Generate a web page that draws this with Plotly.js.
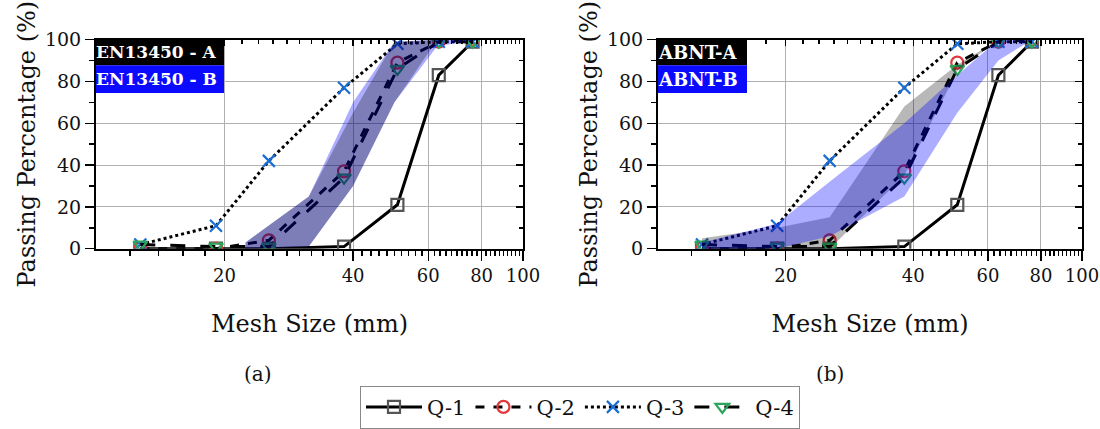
<!DOCTYPE html>
<html><head><meta charset="utf-8">
<script src="https://cdn.plot.ly/plotly-3.0.1.min.js"></script>
<style>html,body{margin:0;padding:0;background:#fff}#c{width:1100px;height:429px}</style>
</head><body><div id="c"></div>
<script>
// Sieve sizes (mm) for samples
var sieves = [12.7, 19.1, 25.4, 38.1, 50.8, 63.5, 76.2];
var q1 = [0, 0, 0, 1, 21, 83, 99];
var q2 = [0, 0, 4, 37, 89, 99, 100];
var q3 = [2, 11, 42, 77, 98, 99, 99];
var q4 = [2, 1, 1, 34, 86, 99, 99];

// EN 13450 grading limits
var enSieves = [22.4, 31.5, 40, 50, 63, 80];
var enA_low = [0, 1, 30, 70, 100, 100];
var enA_up  = [3, 25, 65, 99, 100, 100];
var enB_low = [0, 1, 30, 70, 97, 100];
var enB_up  = [3, 25, 70, 99, 100, 100];

// ABNT grading limits
var abSieves = [12.7, 19.1, 25.4, 38.1, 50.8, 63.5, 76.2];
var abA_low = [0, 0, 0, 35, 85, 100, 100];
var abA_up  = [5, 10, 15, 68, 88, 100, 100];
var abB_low = [0, 0, 6, 25, 65, 90, 100];
var abB_up  = [3, 12, 32, 60, 83, 100, 100];

var xTickVals = [20, 40, 60, 80, 100];
var xTickText = ['20', '40', '60', '80', '100'];
var yTickVals = [0, 20, 40, 60, 80, 100];

var labelsA = ['EN13450 - A', 'ABNT-A'];
var labelsB = ['EN13450 - B', 'ABNT-B'];
var panelLabels = ['(a)', '(b)'];
var seriesNames = ['Q-1', 'Q-2', 'Q-3', 'Q-4'];

var FONT = 'DejaVu Serif';
var minorX = [];
for (var v = 12; v < 100; v += 2) { if (v % 20 !== 0) minorX.push(v); }

function band(xs, lo, up, color, xa, ya) {
  return {x: xs.concat(xs.slice().reverse()), y: lo.concat(up.slice().reverse()),
    fill: 'toself', fillcolor: color, line: {width: 0}, mode: 'lines',
    xaxis: xa, yaxis: ya, showlegend: false, hoverinfo: 'skip'};
}
var styles = [
  {dash: 'solid', sym: 'square-open', col: '#555555'},
  {dash: 'dash', sym: 'circle-open', col: '#e0393e'},
  {dash: 'dot', sym: 'x-thin-open', col: '#1a6fd4'},
  {dash: 'longdash', sym: 'triangle-down-open', col: '#2aa55a'}
];
var data = [];
var series = [q1, q2, q3, q4];
['x', 'x2'].forEach(function (xa, p) {
  var ya = p === 0 ? 'y' : 'y2';
  series.forEach(function (s, i) {
    data.push({x: sieves, y: s, mode: 'lines+markers', name: seriesNames[i],
      xaxis: xa, yaxis: ya, showlegend: p === 0,
      line: {color: '#000', width: 3, dash: styles[i].dash},
      marker: {symbol: styles[i].sym, size: 12, color: styles[i].col, line: {width: 2.2, color: styles[i].col}}});
  });
});
var bandGrey = 'rgba(0,0,0,0.28)';
var bandBlue = 'rgba(0,0,255,0.32)';
data.push(band(enSieves, enB_low, enB_up, bandBlue, 'x', 'y'));
data.push(band(enSieves, enA_low, enA_up, bandGrey, 'x', 'y'));
data.push(band(abSieves, abA_low, abA_up, bandGrey, 'x2', 'y2'));
data.push(band(abSieves, abB_low, abB_up, bandBlue, 'x2', 'y2'));
[['x3', 'y'], ['x', 'y3'], ['x4', 'y2'], ['x2', 'y4']].forEach(function (p) {
  data.push({x: [null], y: [null], xaxis: p[0], yaxis: p[1], mode: 'markers', showlegend: false, hoverinfo: 'skip'});
});

var W = 1100, H = 429;
var dom = [[96 / W, 523 / W], [658 / W, 1082 / W]];
var yd = [1 - 254 / H, 1 - 40.5 / H];
var xRange = [1, 2];
function xaxis(d) {
  return {type: 'log', range: xRange, domain: d, tickmode: 'array', tickvals: xTickVals, ticktext: xTickText,
    ticks: 'outside', ticklen: 10, tickwidth: 1.5, tickcolor: '#000', showline: true, linecolor: '#000', linewidth: 2,
    showgrid: true, gridcolor: '#b0b0b0', gridwidth: 1, zeroline: false,
    tickfont: {family: FONT, size: 18, color: '#111'},
    minor: {tickmode: 'array', tickvals: minorX, ticks: 'outside', ticklen: 5, tickwidth: 1.5, tickcolor: '#000', showgrid: false},
    title: {text: 'Mesh Size (mm)', font: {family: FONT, size: 24, color: '#111'}, standoff: 30}};
}
function xtop(d, over, anc) {
  return {type: 'log', range: xRange, domain: d, overlaying: over, anchor: anc, side: 'top', tickmode: 'array', tickvals: xTickVals,
    ticks: 'inside', ticklen: 6, tickwidth: 1.5, tickcolor: '#000', showticklabels: false, showline: true, linecolor: '#000', linewidth: 2,
    showgrid: false, zeroline: false,
    minor: {tickmode: 'array', tickvals: minorX, ticks: 'inside', ticklen: 4, tickwidth: 1.5, tickcolor: '#000', showgrid: false}};
}
function yaxis(anc) {
  return {range: [0, 100], domain: yd, anchor: anc, tickmode: 'array', tickvals: yTickVals,
    ticks: 'outside', ticklen: 9, tickwidth: 1.5, tickcolor: '#000', showline: true, linecolor: '#000', linewidth: 2,
    showgrid: true, gridcolor: '#b0b0b0', gridwidth: 1, zeroline: false,
    tickfont: {family: FONT, size: 19, color: '#111'},
    minor: {tickmode: 'array', tickvals: [10, 30, 50, 70, 90], ticks: 'outside', ticklen: 5, tickwidth: 1.5, tickcolor: '#000', showgrid: false},
    title: {text: 'Passing Percentage (%)', font: {family: FONT, size: 24, color: '#111'}, standoff: 3}};
}
function yright(over, anc) {
  return {range: [0, 100], domain: yd, overlaying: over, anchor: anc, side: 'right', tickmode: 'array', tickvals: yTickVals,
    ticks: 'inside', ticklen: 7, tickwidth: 1.5, tickcolor: '#000', showticklabels: false, showline: true, linecolor: '#000', linewidth: 2,
    showgrid: false, zeroline: false,
    minor: {tickmode: 'array', tickvals: [10, 30, 50, 70, 90], ticks: 'inside', ticklen: 4, tickwidth: 1.5, tickcolor: '#000', showgrid: false}};
}
var xa1 = xaxis(dom[0]); xa1.anchor = 'y';
var xa2 = xaxis(dom[1]); xa2.anchor = 'y2';
var ya1 = yaxis('x'), ya2 = yaxis('x2');

var shapes = [], annotations = [];
var boxW = [128, 89];
[0, 1].forEach(function (p) {
  var x0 = dom[p][0] * W;
  var rects = [[40.5, 66.7, '#000000', labelsA[p]], [66.7, 95, '#0a0aff', labelsB[p]]];
  rects.forEach(function (r) {
    shapes.push({type: 'rect', xref: 'paper', yref: 'paper', x0: x0 / W, x1: (x0 + boxW[p]) / W,
      y0: 1 - r[1] / H, y1: 1 - r[0] / H, fillcolor: r[2], line: {width: 0}, layer: 'above'});
    annotations.push({xref: 'paper', yref: 'paper', x: (x0 - 2) / W, y: 1 - (r[0] + r[1]) / 2 / H, xanchor: 'left', yanchor: 'middle',
      text: '<b>' + r[3] + '</b>', showarrow: false, font: {family: FONT, size: p === 0 ? 17 : 18, color: '#ffffff'}});
  });
  annotations.push({xref: 'paper', yref: 'paper', x: [258, 830][p] / W, y: 1 - 382 / H, xanchor: 'center', yanchor: 'middle',
    text: panelLabels[p], showarrow: false, font: {family: FONT, size: 20, color: '#111'}});
});

var layout = {
  width: W, height: H, margin: {l: 0, r: 0, t: 0, b: 0}, paper_bgcolor: '#fff', plot_bgcolor: 'rgba(0,0,0,0)',
  showlegend: true, font: {family: FONT},
  legend: {orientation: 'h', x: 580 / W, xanchor: 'center', y: 1 - 394 / H, yanchor: 'top', bgcolor: '#fff',
    bordercolor: '#888', borderwidth: 1, font: {family: FONT, size: 21, color: '#111'}, itemwidth: 56, tracegroupgap: 0},
  xaxis: xa1, yaxis: ya1, xaxis2: xa2, yaxis2: ya2,
  xaxis3: xtop(dom[0], 'x', 'y'), yaxis3: yright('y', 'x'),
  xaxis4: xtop(dom[1], 'x2', 'y2'), yaxis4: yright('y2', 'x2'),
  shapes: shapes, annotations: annotations
};
Plotly.newPlot('c', data, layout, {staticPlot: true});
</script></body></html>
